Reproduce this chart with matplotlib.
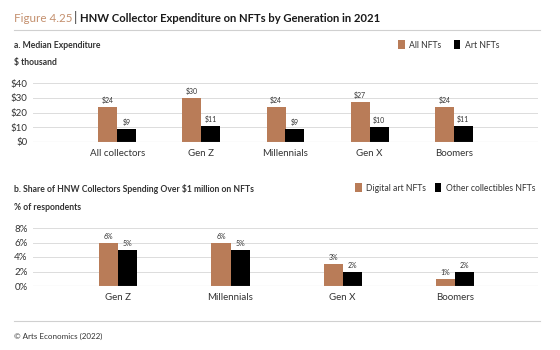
import matplotlib.pyplot as plt
import numpy as np

# data
cats_a = ["All collectors", "Gen Z", "Millennials", "Gen X", "Boomers"]
all_nfts = [24, 30, 24, 27, 24]
art_nfts = [9, 11, 9, 10, 11]

cats_b = ["Gen Z", "Millennials", "Gen X", "Boomers"]
digital_art = [6, 6, 3, 1]
other_coll = [5, 5, 2, 2]

BROWN = "#b97c58"
BLACK = "#000000"
TXT = "#333333"
GRID = "#dcdcdc"

plt.rcParams["font.family"] = ["Lato", "DejaVu Sans"]

W, H = 560, 350
fig = plt.figure(figsize=(W / 100, H / 100), dpi=100)


def fx(x):
    return x / W


def fy(y):
    return 1 - y / H


def add_ax(x0, x1, ytop, ybot):
    return fig.add_axes([fx(x0), fy(ybot), fx(x1) - fx(x0), (ybot - ytop) / H])


def style(ax, ymax, step, fmt):
    ax.set_ylim(0, ymax)
    ax.set_yticks(np.arange(0, ymax + 1, step))
    ax.set_yticklabels([fmt(v) for v in np.arange(0, ymax + 1, step)])
    for s in ax.spines.values():
        s.set_visible(False)
    ax.grid(axis="y", color=GRID, lw=0.7)
    ax.set_axisbelow(True)
    ax.tick_params(length=0, labelsize=7, colors=TXT, pad=4)
    ax.tick_params(axis="x", pad=5)
    ax.axhline(0, color="#bdbdbd", lw=0.8)


# title
fig.text(fx(14), fy(18), "Figure 4.25", color="#c4906e", fontsize=8.4, va="center")
fig.text(fx(74), fy(17.5), "|", color=TXT, fontsize=9.5, va="center")
fig.text(fx(80), fy(18), "HNW Collector Expenditure on NFTs by Generation in 2021",
         color="#1a1a1a", fontsize=8.1, fontweight="bold", va="center")
fig.add_artist(plt.Line2D([fx(14), fx(540)], [fy(30), fy(30)], color="#d0d0d0", lw=0.8))

# panel a
fig.text(fx(14), fy(45), "a. Median Expenditure", color=TXT, fontsize=6.2,
         fontweight="bold", va="center")
fig.text(fx(14), fy(63), "$ thousand", color=TXT, fontsize=6.2, fontweight="bold", va="center")

ax1 = add_ax(33, 538, 83, 142)
x = np.arange(len(cats_a))
w = 0.225
b1 = ax1.bar(x - w / 2, all_nfts, w, color=BROWN, label="All NFTs")
b2 = ax1.bar(x + w / 2, art_nfts, w, color=BLACK, label="Art NFTs")
ax1.set_xlim(-1, len(cats_a))
ax1.set_xticks(x)
ax1.set_xticklabels(cats_a)
style(ax1, 40, 10, lambda v: f"${v:.0f}")
for bars in (b1, b2):
    ax1.bar_label(bars, labels=[f"${v}" for v in bars.datavalues], padding=2,
                  fontsize=5, color=TXT)
leg_kw = dict(ncol=2, frameon=False, fontsize=6.2, handlelength=0.8, handleheight=1.2,
              handletextpad=0.5, labelcolor=TXT, bbox_transform=fig.transFigure,
              loc="center right")
ax1.legend(bbox_to_anchor=(fx(507), fy(45)), columnspacing=1.4, **leg_kw)

# panel b
fig.text(fx(14), fy(189), "b. Share of HNW Collectors Spending Over $1 million on NFTs",
         color=TXT, fontsize=6.2, fontweight="bold", va="center")
fig.text(fx(14), fy(208), "% of respondents", color=TXT, fontsize=6.2,
         fontweight="bold", va="center")

ax2 = add_ax(33, 538, 228, 286)
xb = np.arange(len(cats_b))
wb = 0.17
c1 = ax2.bar(xb - wb / 2, digital_art, wb, color=BROWN, label="Digital art NFTs")
c2 = ax2.bar(xb + wb / 2, other_coll, wb, color=BLACK, label="Other collectibles NFTs")
ax2.set_xlim(-0.76, len(cats_b) - 0.26)
ax2.set_xticks(xb)
ax2.set_xticklabels(cats_b)
style(ax2, 8, 2, lambda v: f"{v:.0f}%")
for bars in (c1, c2):
    ax2.bar_label(bars, labels=[f"{v}%" for v in bars.datavalues], padding=2,
                  fontsize=5, color=TXT)
ax2.legend(bbox_to_anchor=(fx(543), fy(188)), columnspacing=1.0, **leg_kw)

# footer
fig.add_artist(plt.Line2D([fx(14), fx(540)], [fy(321), fy(321)], color="#d0d0d0", lw=0.8))
fig.text(fx(14), fy(336), "© Arts Economics (2022)", color=TXT, fontsize=5.8, va="center")

fig.savefig("out.png", dpi=100, facecolor="white")
